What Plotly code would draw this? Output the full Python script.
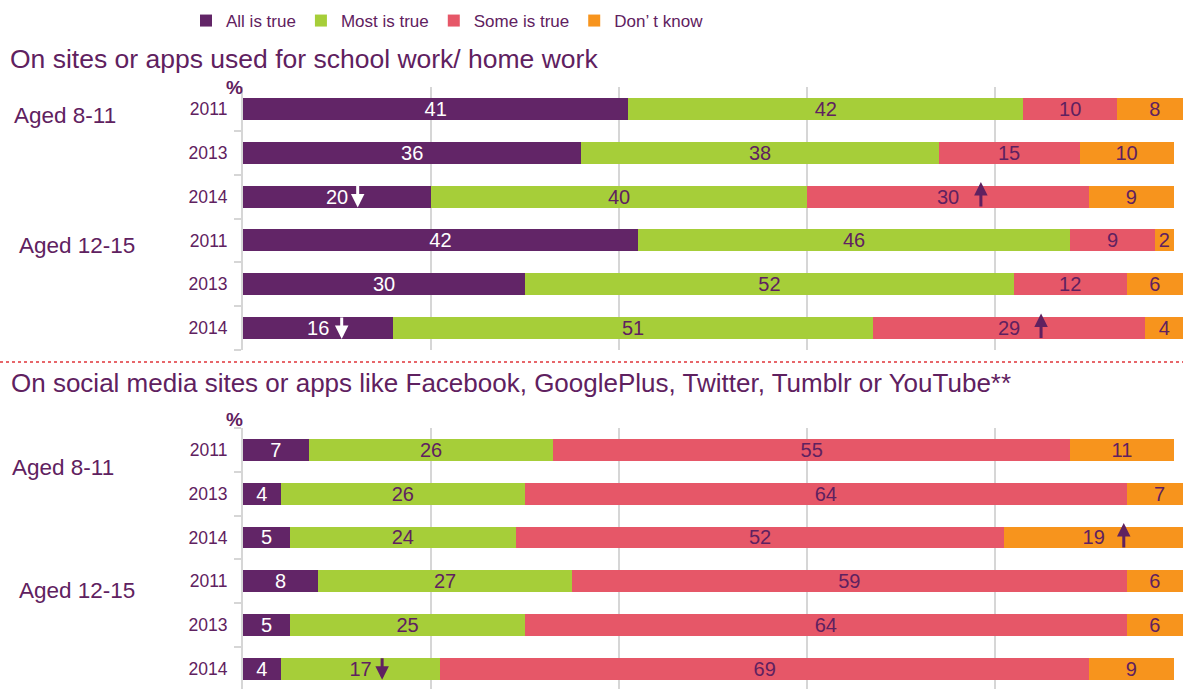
import plotly.graph_objects as go

# ---------------- data ----------------
series_names = ["All is true", "Most is true", "Some is true", "Don’ t know"]
year_labels = ["2011", "2013", "2014", "2011", "2013", "2014"]
age_groups = ["Aged 8-11", "Aged 12-15"]

school_all = [41, 36, 20, 42, 30, 16]
school_most = [42, 38, 40, 46, 52, 51]
school_some = [10, 15, 30, 9, 12, 29]
school_dk = [8, 10, 9, 2, 6, 4]

social_all = [7, 4, 5, 8, 5, 4]
social_most = [26, 26, 24, 27, 25, 17]
social_some = [55, 64, 52, 59, 64, 69]
social_dk = [11, 7, 19, 6, 6, 9]

panel_titles = [
    "On sites or apps used for school work/ home work",
    "On social media sites or apps like Facebook, GooglePlus, Twitter, Tumblr or YouTube**",
]

# significant changes: (row, series index, direction)
school_changes = [(2, 0, "down"), (2, 2, "up"), (5, 0, "down"), (5, 2, "up")]
social_changes = [(2, 3, "up"), (5, 1, "down")]

# ---------------- style ----------------
FONT = "Liberation Sans, Arial, sans-serif"
PURPLE_TXT = "#5f2160"
series_colors = ["#622567", "#a6ce39", "#e65768", "#f7941d"]
text_colors = ["#ffffff", PURPLE_TXT, PURPLE_TXT, PURPLE_TXT]
GRID = "#d6d6d6"
W, H = 1183, 689
X0 = 243                     # left edge of bar area in page px

# arrow horizontal offset (data units) from the segment centre
arrow_offsets = {("school", 2, 0): 2.2, ("school", 2, 2): 3.5,
                 ("school", 5, 0): 2.5, ("school", 5, 2): 3.4,
                 ("social", 2, 3): 3.2, ("social", 5, 1): 2.3}

rows = list(range(6))

panels = [
    ("school", [school_all, school_most, school_some, school_dk], "x", "y", school_changes),
    ("social", [social_all, social_most, social_some, social_dk], "x2", "y2", social_changes),
]

fig = go.Figure()
annotations = []

for p, (key, series, xa, ya, changes) in enumerate(panels):
    for s in range(4):
        fig.add_trace(go.Bar(
            y=rows, x=series[s], orientation="h",
            name=series_names[s],
            marker=dict(color=series_colors[s], line=dict(width=0)),
            text=series[s], textposition="inside", insidetextanchor="middle",
            textangle=0,
            textfont=dict(color=text_colors[s], size=20, family=FONT),
            width=0.5, showlegend=(p == 0), legendgroup=series_names[s],
            xaxis=xa, yaxis=ya, hoverinfo="skip", cliponaxis=True,
        ))
    # arrows for significant changes
    for (r, s, d) in changes:
        start = sum(series[k][r] for k in range(s))
        xc = start + series[s][r] / 2 + arrow_offsets[(key, r, s)]
        col = "#ffffff" if s == 0 else PURPLE_TXT
        if d == "up":
            annotations.append(dict(x=xc, y=r - 0.33, xref=xa, yref=ya, text="",
                                    showarrow=True, ax=0, ay=26, arrowhead=2,
                                    arrowsize=0.9, arrowwidth=3, arrowcolor=col))
        else:
            annotations.append(dict(x=xc, y=r + 0.25, xref=xa, yref=ya, text="",
                                    showarrow=True, ax=0, ay=-23, arrowhead=2,
                                    arrowsize=0.9, arrowwidth=3, arrowcolor=col))


def px(x):
    return x / W


def py(y):
    return 1 - y / H


# titles
annotations.append(dict(x=px(8), y=py(59), xref="paper", yref="paper", xanchor="left",
                        yanchor="middle", text=panel_titles[0], showarrow=False,
                        font=dict(size=26.5, color=PURPLE_TXT, family=FONT)))
annotations.append(dict(x=px(9), y=py(383), xref="paper", yref="paper", xanchor="left",
                        yanchor="middle", text=panel_titles[1], showarrow=False,
                        font=dict(size=26, color=PURPLE_TXT, family=FONT)))
# age group labels
for (xx, yy, t) in [(12, 115, age_groups[0]), (17, 246, age_groups[1]),
                    (10, 467, age_groups[0]), (17, 590, age_groups[1])]:
    annotations.append(dict(x=px(xx), y=py(yy), xref="paper", yref="paper", xanchor="left",
                            yanchor="middle", text=t, showarrow=False,
                            font=dict(size=22.5, color=PURPLE_TXT, family=FONT)))
# % labels
for yy in [88, 419]:
    annotations.append(dict(x=px(234), y=py(yy), xref="paper", yref="paper", xanchor="center",
                            yanchor="middle", text="<b>%</b>", showarrow=False,
                            font=dict(size=19, color=PURPLE_TXT, family=FONT)))

top_dom = [py(350), py(87)]
bot_dom = [0, py(428)]

xaxis_common = dict(range=[0, 100], domain=[px(X0), 1], showgrid=True, gridcolor=GRID,
                    gridwidth=2, tickmode="array", tickvals=[20, 40, 60, 80],
                    showticklabels=False, zeroline=False, showline=False, fixedrange=True)
yaxis_common = dict(tickmode="array", tickvals=rows, ticktext=year_labels,
                    showgrid=False, zeroline=False, showline=True, linecolor=GRID,
                    linewidth=2, ticks="outside", ticklen=10, tickcolor="rgba(0,0,0,0)",
                    tickfont=dict(size=17.5, color=PURPLE_TXT, family=FONT),
                    minor=dict(tickmode="linear", tick0=0.5, dtick=1, ticks="outside",
                               ticklen=7, tickwidth=2, tickcolor=GRID, showgrid=False),
                    fixedrange=True)

fig.update_layout(
    width=W, height=H,
    margin=dict(l=0, r=0, t=0, b=0),
    paper_bgcolor="white", plot_bgcolor="white",
    barmode="stack",
    font=dict(family=FONT, color=PURPLE_TXT),
    xaxis=dict(anchor="y", **xaxis_common),
    xaxis2=dict(anchor="y2", **xaxis_common),
    yaxis=dict(anchor="x", domain=top_dom, range=[5.5, -0.5], **yaxis_common),
    yaxis2=dict(anchor="x2", domain=bot_dom, range=[5.46, -0.5], **yaxis_common),
    legend=dict(orientation="h", x=px(186), xanchor="left", y=py(3), yanchor="top",
                traceorder="normal", font=dict(size=17, color=PURPLE_TXT, family=FONT),
                bgcolor="rgba(0,0,0,0)"),
    uniformtext=dict(minsize=20, mode="show"),
    annotations=annotations,
    shapes=[dict(type="line", xref="paper", yref="paper", x0=0, x1=1,
                 y0=py(362), y1=py(362), line=dict(color="#e0353a", width=1.5, dash="dot"))],
)

fig.write_html(
    "out.html",
    config={"displayModeBar": False, "staticPlot": True},
    post_script="document.body.style.margin='0';document.body.style.overflow='hidden';",
)
